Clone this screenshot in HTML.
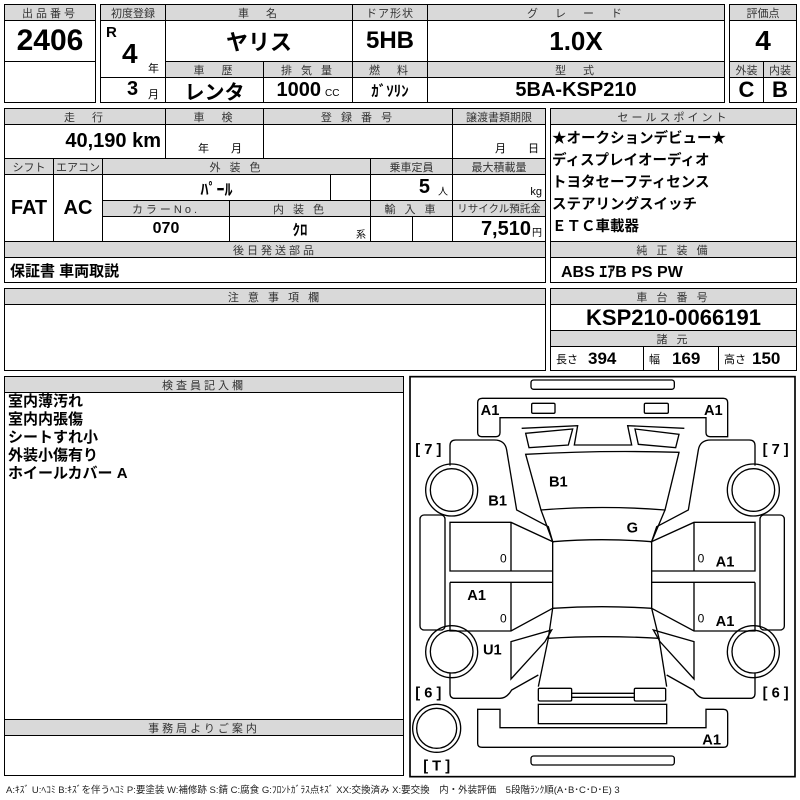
<!DOCTYPE html>
<html><head><meta charset="utf-8">
<style>
*{margin:0;padding:0;box-sizing:border-box}
body{width:800px;height:800px;background:#fff;position:relative;overflow:hidden;font-family:"Liberation Sans","Noto Sans CJK JP",sans-serif;color:#000}
.c{position:absolute;border:1px solid #000;display:flex;align-items:center;justify-content:center;white-space:nowrap;overflow:hidden}
.h{background:#d9d9d9;font-size:11px;letter-spacing:3px;color:#333}
.v{font-weight:bold;font-size:20px;font-family:"Liberation Sans Narrow","Liberation Sans","Noto Sans CJK JP",sans-serif}
.o{position:absolute;border:1.5px solid #000}
.t{position:absolute;white-space:nowrap}
</style></head><body>

<!-- top left box -->
<div class="o" style="left:4px;top:4px;width:92px;height:99px"></div>
<div class="c h" style="left:4px;top:4px;width:92px;height:17px">出品番号</div>
<div class="c v" style="left:4px;top:20px;width:92px;height:42px;font-size:30px">2406</div>
<div class="c" style="left:4px;top:61px;width:92px;height:42px"></div>

<!-- top middle box -->
<div class="o" style="left:100px;top:4px;width:625px;height:99px"></div>
<div class="c h" style="left:100px;top:4px;width:66px;height:17px;letter-spacing:0">初度登録</div>
<div class="c h" style="left:165px;top:4px;width:188px;height:17px">車　名</div>
<div class="c h" style="left:352px;top:4px;width:76px;height:17px;letter-spacing:1px">ドア形状</div>
<div class="c h" style="left:427px;top:4px;width:298px;height:17px">グ　レ　ー　ド</div>
<div class="c" style="left:100px;top:20px;width:66px;height:58px"></div>
<div class="t" style="left:106px;top:24px;font-weight:bold;font-size:15px">R</div>
<div class="t v" style="left:122px;top:38px;font-size:28px">4</div>
<div class="t" style="left:148px;top:60px;font-size:11px">年</div>
<div class="c v" style="left:165px;top:20px;width:188px;height:42px;font-size:22px">ヤリス</div>
<div class="c v" style="left:352px;top:20px;width:76px;height:42px;font-size:24px">5HB</div>
<div class="c v" style="left:427px;top:20px;width:298px;height:42px;font-size:26px">1.0X</div>
<div class="c h" style="left:165px;top:61px;width:99px;height:17px">車　歴</div>
<div class="c h" style="left:263px;top:61px;width:90px;height:17px">排 気 量</div>
<div class="c h" style="left:352px;top:61px;width:76px;height:17px">燃　料</div>
<div class="c h" style="left:427px;top:61px;width:298px;height:17px">型　式</div>
<div class="c" style="left:100px;top:77px;width:66px;height:26px"></div>
<div class="t v" style="left:127px;top:78px;font-size:20px">3</div>
<div class="t" style="left:148px;top:86px;font-size:11px">月</div>
<div class="c v" style="left:165px;top:77px;width:99px;height:26px">レンタ</div>
<div class="c" style="left:263px;top:77px;width:90px;height:26px"><span class="v">1000</span><span style="font-size:10px;margin:6px 0 0 4px">CC</span></div>
<div class="c v" style="left:352px;top:77px;width:76px;height:26px;font-size:15px">ｶﾞｿﾘﾝ</div>
<div class="c v" style="left:427px;top:77px;width:298px;height:26px">5BA-KSP210</div>

<!-- top right -->
<div class="o" style="left:729px;top:4px;width:68px;height:99px"></div>
<div class="c h" style="left:729px;top:4px;width:68px;height:17px;letter-spacing:0">評価点</div>
<div class="c v" style="left:729px;top:20px;width:68px;height:42px;font-size:28px">4</div>
<div class="c h" style="left:729px;top:61px;width:35px;height:17px;letter-spacing:0">外装</div>
<div class="c h" style="left:763px;top:61px;width:34px;height:17px;letter-spacing:0">内装</div>
<div class="c v" style="left:729px;top:77px;width:35px;height:26px;font-size:22px">C</div>
<div class="c v" style="left:763px;top:77px;width:34px;height:26px;font-size:22px">B</div>

<!-- second block -->
<div class="o" style="left:4px;top:108px;width:542px;height:175px"></div>
<div class="c h" style="left:4px;top:108px;width:162px;height:17px">走　行</div>
<div class="c h" style="left:165px;top:108px;width:99px;height:17px">車　検</div>
<div class="c h" style="left:263px;top:108px;width:190px;height:17px">登 録 番 号</div>
<div class="c h" style="left:452px;top:108px;width:94px;height:17px;letter-spacing:0">譲渡書類期限</div>
<div class="c v" style="left:4px;top:124px;width:162px;height:35px;justify-content:flex-end;padding-right:4px">40,190 km</div>
<div class="c" style="left:165px;top:124px;width:99px;height:35px;font-size:11px;align-items:flex-end;padding-bottom:2px">　年　　月</div>
<div class="c" style="left:263px;top:124px;width:190px;height:35px"></div>
<div class="c" style="left:452px;top:124px;width:94px;height:35px;font-size:11px;align-items:flex-end;justify-content:flex-end;padding:0 6px 2px 0">月　　日</div>
<div class="c h" style="left:4px;top:158px;width:50px;height:17px;letter-spacing:0">シフト</div>
<div class="c h" style="left:53px;top:158px;width:50px;height:17px;letter-spacing:0">エアコン</div>
<div class="c h" style="left:102px;top:158px;width:269px;height:17px">外 装 色</div>
<div class="c h" style="left:370px;top:158px;width:83px;height:17px;letter-spacing:0">乗車定員</div>
<div class="c h" style="left:452px;top:158px;width:94px;height:17px;letter-spacing:0">最大積載量</div>
<div class="c v" style="left:4px;top:174px;width:50px;height:68px">FAT</div>
<div class="c v" style="left:53px;top:174px;width:50px;height:68px">AC</div>
<div class="c v" style="left:102px;top:174px;width:229px;height:27px;font-size:16px">ﾊﾟｰﾙ</div>
<div class="c" style="left:330px;top:174px;width:41px;height:27px"></div>
<div class="c" style="left:370px;top:174px;width:83px;height:27px;justify-content:flex-end;padding-right:4px"><span class="v">5</span><span style="font-size:10px;margin:6px 0 0 8px">人</span></div>
<div class="c" style="left:452px;top:174px;width:94px;height:27px;justify-content:flex-end;padding:8px 3px 0 0;font-size:11px">kg</div>
<div class="c h" style="left:102px;top:200px;width:128px;height:17px">カラーNo.</div>
<div class="c h" style="left:229px;top:200px;width:142px;height:17px">内 装 色</div>
<div class="c h" style="left:370px;top:200px;width:83px;height:17px">輸 入 車</div>
<div class="c h" style="left:452px;top:200px;width:94px;height:17px;letter-spacing:0;font-size:10.5px">リサイクル預託金</div>
<div class="c v" style="left:102px;top:216px;width:128px;height:26px;font-size:16px">070</div>
<div class="c v" style="left:229px;top:216px;width:142px;height:26px;font-size:15px">ｸﾛ</div>
<div class="t" style="left:356px;top:226px;font-size:10px">系</div>
<div class="c" style="left:370px;top:216px;width:43px;height:26px"></div>
<div class="c" style="left:412px;top:216px;width:41px;height:26px"></div>
<div class="c" style="left:452px;top:216px;width:94px;height:26px;justify-content:flex-end;padding-right:3px"><span class="v">7,510</span><span style="font-size:10px;margin:4px 0 0 1px">円</span></div>
<div class="c h" style="left:4px;top:241px;width:542px;height:17px">後日発送部品</div>
<div class="c" style="left:4px;top:257px;width:542px;height:26px;justify-content:flex-start;padding-left:5px;font-weight:bold;font-size:15px">保証書 車両取説</div>

<!-- sales point -->
<div class="o" style="left:550px;top:108px;width:247px;height:175px"></div>
<div class="c h" style="left:550px;top:108px;width:247px;height:17px">セールスポイント</div>
<div class="c" style="left:550px;top:124px;width:247px;height:118px"></div>
<div class="t" style="left:552px;top:128px;font-size:14.5px;font-weight:bold;line-height:22px">★オークションデビュー★<br>ディスプレイオーディオ<br>トヨタセーフティセンス<br>ステアリングスイッチ<br>ＥＴＣ車載器</div>
<div class="c h" style="left:550px;top:241px;width:247px;height:17px">純 正 装 備</div>
<div class="c v" style="left:550px;top:257px;width:247px;height:26px;justify-content:flex-start;padding-left:10px;font-size:16px">ABS ｴｱB PS PW</div>

<!-- 注意事項 -->
<div class="o" style="left:4px;top:288px;width:542px;height:83px"></div>
<div class="c h" style="left:4px;top:288px;width:542px;height:17px">注 意 事 項 欄</div>
<!-- 車台番号 -->
<div class="o" style="left:550px;top:288px;width:247px;height:83px"></div>
<div class="c h" style="left:550px;top:288px;width:247px;height:17px">車 台 番 号</div>
<div class="c v" style="left:550px;top:304px;width:247px;height:27px;font-size:22px">KSP210-0066191</div>
<div class="c h" style="left:550px;top:330px;width:247px;height:17px">諸 元</div>
<div class="c" style="left:550px;top:346px;width:94px;height:25px;justify-content:flex-start;padding-left:5px"><span style="font-size:11px">長さ</span><span class="v" style="font-size:17px;margin-left:10px">394</span></div>
<div class="c" style="left:643px;top:346px;width:76px;height:25px;justify-content:flex-start;padding-left:5px"><span style="font-size:11px">幅</span><span class="v" style="font-size:17px;margin-left:12px">169</span></div>
<div class="c" style="left:718px;top:346px;width:79px;height:25px;justify-content:flex-start;padding-left:5px"><span style="font-size:11px">高さ</span><span class="v" style="font-size:17px;margin-left:6px">150</span></div>

<!-- 検査員 -->
<div class="o" style="left:4px;top:376px;width:400px;height:400px"></div>
<div class="c h" style="left:4px;top:376px;width:400px;height:17px">検査員記入欄</div>
<div class="t" style="left:8px;top:393px;font-size:15px;font-weight:bold;line-height:18px">室内薄汚れ<br>室内内張傷<br>シートすれ小<br>外装小傷有り<br>ホイールカバー A</div>
<div class="c h" style="left:4px;top:719px;width:400px;height:17px">事務局よりご案内</div>

<!-- diagram -->
<svg style="position:absolute;left:405px;top:375px" width="395" height="425" viewBox="0 0 1185 1275">
<g fill="none" stroke="#000" stroke-width="4">
<rect x="15" y="5" width="1155" height="1200" stroke-width="5"/>
<rect x="378" y="15" width="430" height="28" rx="8"/>
<path d="M232,70 H955 Q968,70 968,83 V185 H915 Q903,185 903,173 V128 H285 V173 Q285,185 273,185 H230 Q218,185 218,173 V83 Q218,70 232,70 Z"/>
<rect x="380" y="85" width="70" height="30" rx="4"/>
<rect x="718" y="85" width="72" height="30" rx="4"/>
<path d="M350,160 L518,152 L508,210 L680,210 L668,152 L838,160"/>
<path d="M362,175 L503,162 L490,210 L372,218 Z"/>
<path d="M690,162 L822,178 L812,218 L700,208 Z"/>
<path d="M362,238 Q590,225 822,232 L780,405 Q590,390 408,405 Z"/>
<path d="M408,405 L443,500 Q590,488 740,500 L780,405"/>
<path d="M443,500 V700 Q590,690 740,700 V500"/>
<path d="M443,700 L430,790 Q590,780 762,790 L740,700"/>
<path d="M430,790 L400,935 M762,790 L785,935"/>
<rect x="400" y="940" width="100" height="38" rx="4"/>
<rect x="688" y="940" width="94" height="38" rx="4"/>
<path d="M500,955 H688 M500,967 H688"/>
<rect x="400" y="988" width="385" height="58"/>
<path d="M218,1003 H285 V1058 H903 V1003 H955 Q968,1003 968,1016 V1105 Q968,1117 955,1117 H232 Q218,1117 218,1105 V1016 Q218,1003 218,1003 Z"/>
<rect x="378" y="1143" width="430" height="27" rx="8"/>
<!-- left side -->
<path d="M135,272 V212 Q135,195 152,195 H268 Q300,195 305,225 L335,405 L430,455 L443,500 L318,442 H135 V588 H443 M135,622 H443 M135,622 V768 H318 L443,700"/>
<path d="M318,442 V588 M318,622 V768"/>
<path d="M318,800 L440,765 L420,800 L318,912 Z"/>
<path d="M135,895 V955 Q135,970 150,970 H285 Q305,970 320,945 L400,900"/>
<rect x="45" y="420" width="75" height="345" rx="12"/>
<!-- right side -->
<path d="M1050,272 V212 Q1050,195 1033,195 H917 Q885,195 880,225 L850,405 L755,455 L740,500 L867,442 H1050 V588 H740 M1050,622 H740 M1050,622 V768 H867 L740,700"/>
<path d="M867,442 V588 M867,622 V768"/>
<path d="M867,800 L745,765 L765,800 L867,912 Z"/>
<path d="M1050,895 V955 Q1050,970 1035,970 H900 Q880,970 865,945 L785,900"/>
<rect x="1065" y="420" width="73" height="345" rx="12"/>
<!-- wheels -->
<circle cx="140" cy="345" r="78"/><circle cx="140" cy="345" r="64"/>
<circle cx="1045" cy="345" r="78"/><circle cx="1045" cy="345" r="64"/>
<circle cx="140" cy="830" r="78"/><circle cx="140" cy="830" r="64"/>
<circle cx="1045" cy="830" r="78"/><circle cx="1045" cy="830" r="64"/>
<circle cx="95" cy="1060" r="72"/><circle cx="95" cy="1060" r="60"/>
</g>
<g font-family="Liberation Sans,sans-serif" font-weight="bold" font-size="44" text-anchor="middle">
<text x="255" y="120">A1</text><text x="925" y="120">A1</text>
<text x="460" y="335">B1</text><text x="278" y="392">B1</text>
<text x="682" y="472">G</text>
<text x="960" y="575">A1</text><text x="215" y="675">A1</text><text x="960" y="753">A1</text>
<text x="262" y="838">U1</text><text x="920" y="1108">A1</text>
<text x="70" y="237">[ 7 ]</text><text x="1112" y="237">[ 7 ]</text>
<text x="70" y="967">[ 6 ]</text><text x="1112" y="967">[ 6 ]</text>
<text x="95" y="1187">[ T ]</text>
</g>
<g font-family="Liberation Sans,sans-serif" font-size="36" text-anchor="middle">
<text x="295" y="562">0</text><text x="888" y="562">0</text>
<text x="295" y="742">0</text><text x="888" y="742">0</text>
</g>
</svg>

<div class="t" style="left:6px;top:782px;font-size:9.5px;color:#222">A:ｷｽﾞ U:ﾍｺﾐ B:ｷｽﾞを伴うﾍｺﾐ P:要塗装 W:補修跡 S:錆 C:腐食 G:ﾌﾛﾝﾄｶﾞﾗｽ点ｷｽﾞ XX:交換済み X:要交換　内・外装評価　5段階ﾗﾝｸ順(A･B･C･D･E) 3</div>
</body></html>
